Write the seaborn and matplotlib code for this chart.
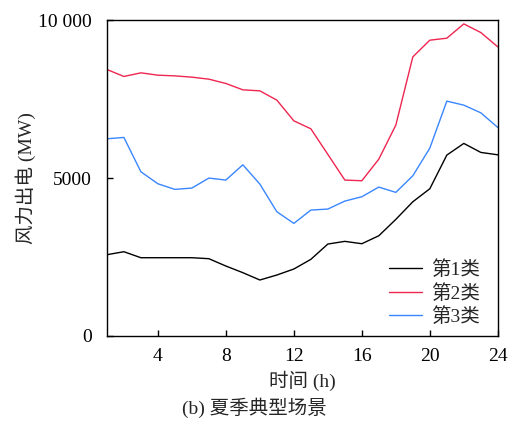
import numpy as np
import pandas as pd
import matplotlib
matplotlib.use("Agg")
import matplotlib.pyplot as plt
import seaborn as sns

# Hourly wind output for three typical summer scenarios (MW)
hours = list(range(1, 25))
cluster1 = [2573, 2668, 2478, 2478, 2478, 2478, 2447, 2215, 2004, 1772, 1930, 2120,
            2426, 2911, 2996, 2921, 3174, 3692, 4250, 4662, 5728, 6098, 5813, 5737]
cluster2 = [8440, 8218, 8333, 8259, 8237, 8196, 8133, 7996, 7795, 7763, 7468, 6813,
            6561, 5750, 4937, 4915, 5601, 6677, 8839, 9367, 9430, 9883, 9610, 9155]
cluster3 = [6244, 6287, 5200, 4820, 4642, 4684, 5000, 4937, 5421, 4810, 3934, 3565,
            3987, 4019, 4272, 4409, 4715, 4547, 5073, 5949, 7437, 7310, 7067, 6604]
series_names = ["第1类", "第2类", "第3类"]
colors = ["#000000", "#EE2650", "#3A86FF"]

x_ticks = [4, 8, 12, 16, 20, 24]
y_ticks = [0, 5000, 10000]
y_tick_labels = ["0", "5000", "10 000"]

df = pd.DataFrame({
    "hour": hours * 3,
    "power": cluster1 + cluster2 + cluster3,
    "cluster": sum([[n] * len(hours) for n in series_names], []),
})

sns.set_theme(style="ticks")
plt.rcParams["font.family"] = ["Liberation Serif", "Noto Sans CJK SC"]
plt.rcParams["axes.unicode_minus"] = False

fig = plt.figure(figsize=(5.09, 4.21), dpi=100)
ax = fig.add_axes([0.210, 0.202, 0.768, 0.750])

sns.lineplot(data=df, x="hour", y="power", hue="cluster",
             palette=dict(zip(series_names, colors)), linewidth=1.0, ax=ax)

ax.set_xlim(1, 24)
ax.set_ylim(0, 10000)
ax.set_xticks(x_ticks)
ax.set_yticks(y_ticks)
ax.set_yticklabels(y_tick_labels)
ax.tick_params(direction="in", length=4, width=1.0, labelsize=14,
               colors="black", top=False, right=False)
ax.tick_params(axis="x", pad=9)
ax.tick_params(axis="y", pad=11)
for s in ax.spines.values():
    s.set_visible(True)
    s.set_linewidth(1.0)
    s.set_color("black")

ax.set_xlabel("时间 (h)", fontsize=14, labelpad=4)
ax.set_ylabel("风力出电 (MW)", fontsize=14, labelpad=1)

ax.legend(loc="lower right", bbox_to_anchor=(0.974, 0.006), frameon=False,
          fontsize=14, handlelength=1.7, handletextpad=0.45,
          labelspacing=0.25, borderaxespad=0.0)

fig.text(0.5, 0.031, "(b) 夏季典型场景", ha="center", va="center", fontsize=14)

fig.savefig("out.png", dpi=100)
